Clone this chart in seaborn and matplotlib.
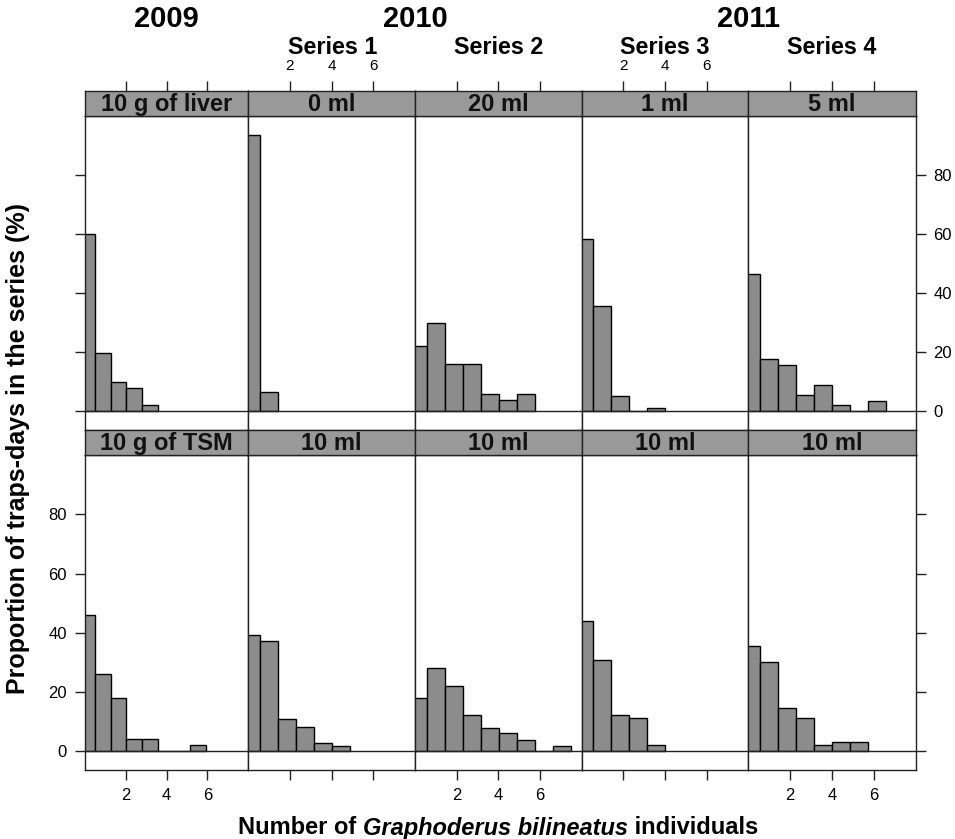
import numpy as np
import pandas as pd
import matplotlib
matplotlib.use('Agg')
import matplotlib.pyplot as plt
import seaborn as sns

# Percent of trap-days per count bin
years = ['2009', '2010', '2011']
series_names = ['Series 1', 'Series 2', 'Series 3', 'Series 4']
top_labels = ['10 g of liver', '0 ml', '20 ml', '1 ml', '5 ml']
bottom_labels = ['10 g of TSM', '10 ml', '10 ml', '10 ml', '10 ml']

liver_2009 = [60.0, 19.9, 10.1, 8.0, 2.0]
tsm_2009 = [46.0, 26.0, 18.0, 4.0, 4.0, 0.0, 0.0, 2.0]
s1_0ml = [93.5, 6.5]
s1_10ml = [39.2, 37.4, 10.9, 8.1, 2.8, 1.8]
s2_20ml = [22.0, 29.8, 15.9, 15.9, 5.9, 3.9, 5.9]
s2_10ml = [18.0, 28.0, 22.0, 12.2, 7.9, 6.1, 3.9, 0.0, 1.9]
s3_1ml = [58.2, 35.6, 5.3, 0.0, 1.1]
s3_10ml = [44.1, 30.7, 12.3, 11.2, 2.1]
s4_5ml = [46.6, 17.9, 15.7, 5.6, 9.0, 2.2, 0.0, 3.5]
s4_10ml = [35.6, 30.2, 14.5, 11.1, 2.2, 3.2, 3.2]

top_data = [liver_2009, s1_0ml, s2_20ml, s3_1ml, s4_5ml]
bottom_data = [tsm_2009, s1_10ml, s2_10ml, s3_10ml, s4_10ml]

# histogram breaks per column
bin_start = -0.31
bin_width = [0.78, 0.865, 0.865, 0.865, 0.865]

x_ticks = [2, 4, 6]
y_ticks = [0, 20, 40, 60, 80]

sns.set_style('white')
plt.rcParams['font.family'] = ['Liberation Sans', 'DejaVu Sans']
plt.rcParams['text.color'] = 'black'
plt.rcParams['xtick.color'] = 'black'
plt.rcParams['ytick.color'] = 'black'
plt.rcParams['axes.labelcolor'] = 'black'

W, H = 955, 839
fig = plt.figure(figsize=(W / 100, H / 100), dpi=100)


def frac(x0, y0, x1, y1):
    return [x0 / W, 1 - y1 / H, (x1 - x0) / W, (y1 - y0) / H]


col_edges = [85, 248.3, 415, 581.5, 748.3, 915.5]
rows = [  # (strip top, panel top, panel bottom)
    (91, 116, 430),
    (430, 455, 770),
]
bar_color = '#8c8c8c'
strip_color = '#999999'
line_color = '#222222'


def style_box(ax):
    for s in ax.spines.values():
        s.set_visible(True)
        s.set_color(line_color)
        s.set_linewidth(1.0)


for r, (data_row, labels) in enumerate([(top_data, top_labels), (bottom_data, bottom_labels)]):
    st, pt, pb = rows[r]
    for c in range(5):
        x0, x1 = col_edges[c], col_edges[c + 1]
        ax = fig.add_axes(frac(x0, pt, x1, pb))
        vals = list(data_row[c])
        n = len(vals)
        edges = bin_start + bin_width[c] * np.arange(n + 1)
        df = pd.DataFrame({'count': (edges[:-1] + edges[1:]) / 2, 'pct': vals})
        sns.histplot(data=df, x='count', weights='pct', bins=list(edges), ax=ax,
                     color=bar_color, edgecolor='black', linewidth=1.0, alpha=1)
        ax.axhline(0, color=line_color, lw=1.0, zorder=3)
        ax.set_xlim(0, 8)
        ax.set_ylim(-6.3, 100)
        ax.set_xlabel('')
        ax.set_ylabel('')
        ax.set_facecolor('white')
        style_box(ax)

        ax.set_yticks(y_ticks)
        left = c == 0
        right = c == 4
        ax.tick_params(axis='y', direction='out', length=7, width=1, color=line_color,
                       left=left, right=right, pad=6, labelsize=12,
                       labelleft=(left and r == 1), labelright=(right and r == 0))
        if r == 1:
            ax.set_xticks(x_ticks)
            ax.tick_params(axis='x', direction='out', length=7, width=1, color=line_color,
                           bottom=True, top=False, pad=6, labelsize=12,
                           labelbottom=(c % 2 == 0))
        else:
            ax.set_xticks([])

        # strip
        sax = fig.add_axes(frac(x0, st, x1, pt))
        sax.set_facecolor(strip_color)
        sax.set_xlim(0, 8)
        sax.set_ylim(0, 1)
        style_box(sax)
        sax.set_yticks([])
        if r == 0:
            sax.set_xticks(x_ticks)
            sax.xaxis.tick_top()
            sax.tick_params(axis='x', direction='out', length=7, width=1, color=line_color,
                            top=True, bottom=False, pad=6, labelsize=11,
                            labeltop=(c % 2 == 1), labelbottom=False)
        else:
            sax.set_xticks([])
        sax.text(4, 0.45, labels[c], ha='center', va='center', fontsize=17,
                 fontweight='bold', color='#111111')

# year and series headings
year_x = [166, 415, 748]
for yr, xp in zip(years, year_x):
    fig.text(xp / W, 1 - 19 / H, yr, ha='center', va='center', fontsize=21, fontweight='bold')
series_x = [333, 499, 665, 832]
for nm, xp in zip(series_names, series_x):
    fig.text(xp / W, 1 - 47 / H, nm, ha='center', va='center', fontsize=16.8, fontweight='bold')

fig.text(18 / W, 1 - 448 / H, 'Proportion of traps-days in the series (%)', rotation=90,
         ha='center', va='center', fontsize=18, fontweight='bold')

# x label with italic species name
parts = [('Number of ', 'normal'), ('Graphoderus bilineatus', 'italic'), (' individuals', 'normal')]
renderer = fig.canvas.get_renderer()
texts = []
widths = []
for s, style in parts:
    t = fig.text(0, 1 - 828 / H, s, ha='left', va='center', fontsize=17,
                 fontweight='bold', fontstyle=style)
    bb = t.get_window_extent(renderer=renderer)
    texts.append(t)
    widths.append(bb.width)
total = sum(widths)
xstart = 498 - total / 2
for t, w in zip(texts, widths):
    t.set_x(xstart / W)
    xstart += w

fig.savefig('out.png', dpi=100)
